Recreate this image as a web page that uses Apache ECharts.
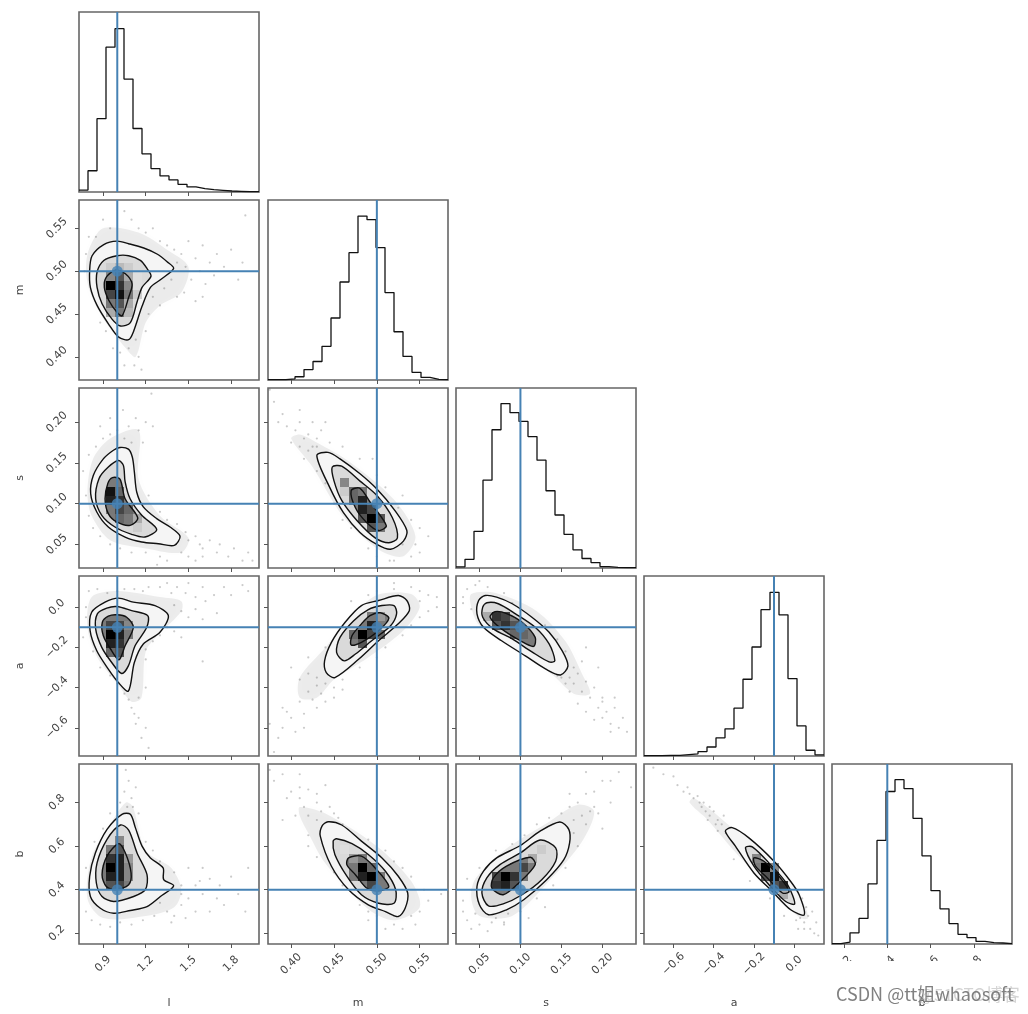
<!DOCTYPE html>
<html><head><meta charset="utf-8">
<style>html,body{margin:0;padding:0;background:#fff}#c{width:1028px;height:1014px;filter:blur(0.55px)}</style>
<script src="https://cdn.jsdelivr.net/npm/echarts@6/dist/echarts.min.js"></script>
</head><body><div id="c"></div>
<script>
const paramNames = ['l','m','s','a','b'];
const truths = [1.0,0.5,0.1,-0.1,0.4];
const xRanges = [[0.731,1.996],[0.373,0.583],[0.0214,0.241],[-0.7465,0.1485],[0.145,0.975]];
const yRanges = [[0.731,1.996],[0.373,0.583],[0.021,0.242],[-0.74,0.155],[0.151,0.977]];
const tickValues = [[0.9,1.2,1.5,1.8],[0.40,0.45,0.50,0.55],[0.05,0.10,0.15,0.20],[-0.6,-0.4,-0.2,0.0],[0.2,0.4,0.6,0.8]];
const tickLabels = [['0.9','1.2','1.5','1.8'],['0.40','0.45','0.50','0.55'],['0.05','0.10','0.15','0.20'],['\u22120.6','\u22120.4','\u22120.2','0.0'],['0.2','0.4','0.6','0.8']];

const hist_l = [1.2,13,44.8,88.5,99.8,69,38.8,23.3,14.3,9.8,7.4,4.7,3.1,2,1.4,1,0.6,0.4,0.2,0.2];
const hist_m = [0.2,0.2,0.7,2,6.4,11.3,20.6,37.9,59.9,77.8,100.2,98,80.9,53.4,29.5,14.4,4.7,1.6,0.4,0.2];
const hist_s = [0.7,5.3,22.4,53.7,84.5,100.5,94.9,89.6,80.3,65.9,47.2,32.4,20.6,11.1,5.8,3.3,0.9,0.4,0.2,0.2];
const hist_a = [0.2,0.2,0.4,0.4,0.9,1.3,2.7,5.5,11.1,16.6,29.2,46.9,66.6,89.4,100,86.3,47.3,18.4,3.5,0.7];
const hist_b = [0.2,1.2,6.8,15.6,36.7,63.3,93.2,100.4,95,76.8,53.9,32.6,21.5,12.5,5.9,3.9,1.6,0.8,0.6,0.2];

const contour_m_l = [
 [[.998,.535],[1.08,.532],[1.186,.527],[1.279,.52],[1.35,.511],[1.396,.503],[1.303,.49],[1.233,.481],[1.174,.459],[1.115,.43],[1.08,.42],[1.01,.423],[.94,.438],[.858,.46],[.811,.481],[.806,.501],[.823,.518],[.905,.531]],
 [[.998,.518],[1.08,.518],[1.162,.5125],[1.209,.503],[1.237,.494],[1.174,.481],[1.139,.464],[1.092,.44],[1.022,.436],[.963,.444],[.893,.462],[.858,.481],[.858,.499],[.905,.5125]],
 [[.987,.501],[1.057,.497],[1.104,.485],[1.08,.4695],[1.034,.448],[.998,.452],[.94,.466],[.909,.481],[.923,.493]]];
const contour_s_l = [
 [[1.019,.169],[1.078,.167],[1.106,.157],[1.12,.139],[1.137,.114],[1.183,.096],[1.277,.0816],[1.371,.0713],[1.441,.06],[1.401,.0488],[1.289,.0508],[1.172,.0529],[1.055,.059],[.937,.0713],[.856,.0898],[.813,.1123],[.832,.1348],[.902,.155],[.973,.1656]],
 [[1.008,.153],[1.043,.147],[1.055,.127],[1.09,.106],[1.172,.0857],[1.277,.0684],[1.195,.059],[1.101,.0623],[.984,.0713],[.891,.0857],[.848,.106],[.872,.131],[.937,.145]],
 [[.966,.132],[1.019,.13],[1.055,.106],[1.144,.0824],[1.09,.0734],[.996,.0775],[.937,.0877],[.914,.106],[.933,.1246]]];
const contour_a_l = [
 [[1.008,.045],[1.113,.025],[1.265,.008],[1.359,-.042],[1.3,-.125],[1.183,-.183],[1.12,-.275],[1.078,-.417],[1.008,-.375],[.937,-.308],[.856,-.217],[.809,-.117],[.82,-.025],[.914,.025]],
 [[.996,.003],[1.101,-.017],[1.214,-.042],[1.207,-.1],[1.125,-.192],[1.078,-.292],[1.031,-.33],[.961,-.275],[.891,-.2],[.848,-.108],[.86,-.033],[.926,-.005]],
 [[.996,-.038],[1.066,-.05],[1.113,-.1],[1.055,-.192],[1.012,-.262],[.961,-.217],[.902,-.142],[.895,-.075],[.937,-.045]]];
const contour_b_l = [
 [[1.033,.746],[1.092,.746],[1.127,.685],[1.174,.6],[1.233,.546],[1.322,.5],[1.326,.446],[1.396,.418],[1.303,.369],[1.209,.323],[1.092,.305],[.975,.292],[.881,.315],[.811,.369],[.806,.462],[.846,.569],[.928,.677]],
 [[1.022,.697],[1.08,.674],[1.139,.569],[1.209,.469],[1.197,.4],[1.115,.369],[.975,.346],[.893,.369],[.853,.431],[.858,.523],[.928,.631]],
 [[1.01,.611],[1.057,.569],[1.097,.477],[1.08,.423],[.987,.4],[.923,.415],[.893,.469],[.928,.554]]];
const contour_s_m = [
 [[.43,.159],[.443,.163],[.457,.155],[.48,.137],[.5,.118],[.52,.093],[.535,.067],[.531,.054],[.516,.044],[.5,.05],[.48,.065],[.461,.089],[.445,.12]],
 [[.448,.145],[.459,.146],[.48,.128],[.5,.11],[.518,.083],[.524,.058],[.514,.052],[.498,.058],[.477,.079],[.459,.104],[.45,.128]],
 [[.47,.116],[.48,.119],[.492,.102],[.511,.073],[.502,.067],[.488,.077],[.475,.095]]];
const contour_a_m = [
 [[.525,.058],[.535,.033],[.538,-.017],[.525,-.083],[.502,-.167],[.479,-.258],[.451,-.35],[.441,-.325],[.439,-.267],[.447,-.175],[.463,-.075],[.482,.008],[.502,.033]],
 [[.52,.008],[.523,-.033],[.516,-.092],[.494,-.167],[.475,-.233],[.462,-.267],[.453,-.225],[.457,-.15],[.473,-.067],[.49,-.012],[.506,.008]],
 [[.504,-.028],[.514,-.055],[.502,-.117],[.482,-.175],[.47,-.188],[.471,-.142],[.482,-.083],[.492,-.042]]];
const contour_b_m = [
 [[.443,.712],[.459,.697],[.482,.623],[.506,.546],[.525,.462],[.536,.385],[.533,.315],[.525,.277],[.51,.3],[.49,.331],[.467,.4],[.447,.508],[.434,.646],[.436,.692]],
 [[.453,.634],[.471,.612],[.49,.562],[.51,.485],[.522,.4],[.52,.338],[.502,.338],[.482,.377],[.465,.462],[.451,.562],[.449,.623]],
 [[.467,.546],[.482,.554],[.498,.5],[.514,.415],[.502,.395],[.488,.408],[.475,.469],[.465,.515]]];
const contour_a_s = [
 [[.057,.058],[.071,.05],[.09,.017],[.114,-.05],[.135,-.125],[.151,-.217],[.158,-.292],[.149,-.337],[.131,-.308],[.106,-.242],[.077,-.167],[.055,-.1],[.047,-.033],[.049,.033]],
 [[.059,.022],[.073,.017],[.094,-.033],[.118,-.1],[.135,-.183],[.142,-.267],[.135,-.272],[.114,-.222],[.09,-.158],[.067,-.108],[.054,-.05],[.054,0]],
 [[.069,-.022],[.084,-.033],[.102,-.075],[.118,-.15],[.116,-.195],[.1,-.167],[.077,-.108],[.063,-.05]]];
const contour_b_s = [
 [[.148,.711],[.159,.677],[.16,.615],[.153,.538],[.132,.446],[.104,.354],[.083,.308],[.061,.285],[.05,.331],[.047,.415],[.055,.485],[.071,.546],[.1,.603],[.124,.669]],
 [[.124,.628],[.143,.592],[.143,.531],[.126,.446],[.102,.377],[.079,.335],[.061,.326],[.053,.385],[.059,.454],[.075,.515],[.1,.569]],
 [[.112,.549],[.118,.515],[.098,.431],[.079,.377],[.065,.408],[.067,.454],[.083,.508]]];
const contour_b_a = [
 [[-.342,.669],[-.308,.685],[-.225,.638],[-.1,.531],[-.017,.438],[.025,.377],[.05,.285],[-.017,.308],[-.108,.392],[-.2,.477],[-.292,.6]],
 [[-.242,.592],[-.208,.597],[-.117,.515],[-.033,.423],[.003,.335],[-.042,.346],[-.125,.423],[-.2,.508]],
 [[-.2,.546],[-.15,.531],[-.075,.462],[-.025,.392],[-.058,.385],[-.133,.454],[-.192,.508]]];

const halo_m_l = [[.8,.525],[.9,.55],[1.15,.545],[1.35,.525],[1.5,.505],[1.45,.475],[1.3,.46],[1.2,.44],[1.13,.4],[1.06,.41],[.9,.445],[.81,.475],[.78,.5]];
const halo_s_l = [[.95,.18],[1.15,.19],[1.15,.13],[1.3,.085],[1.5,.058],[1.45,.04],[1.2,.045],[.95,.055],[.82,.085],[.79,.115],[.83,.155]];
const halo_a_l = [[.82,.05],[1,.08],[1.3,.05],[1.45,.03],[1.45,-.02],[1.3,-.13],[1.2,-.22],[1.17,-.45],[1.1,-.47],[1,-.38],[.86,-.25],[.79,-.1]];
const halo_b_l = [[1.06,.8],[1.11,.78],[1.2,.58],[1.38,.5],[1.45,.4],[1.4,.32],[1.2,.28],[.9,.27],[.79,.36],[.82,.55],[.95,.7]];
const halo_s_m = [[.41,.185],[.43,.175],[.47,.15],[.52,.105],[.545,.06],[.53,.035],[.5,.045],[.46,.085],[.425,.145],[.4,.18]];
const halo_a_m = [[.43,-.45],[.45,-.36],[.49,-.25],[.53,-.12],[.55,0],[.54,.065],[.5,.06],[.47,-.05],[.44,-.2],[.41,-.35],[.41,-.45]];
const halo_b_m = [[.41,.78],[.44,.75],[.5,.6],[.54,.44],[.55,.32],[.52,.26],[.49,.31],[.44,.52],[.42,.66],[.41,.74]];
const halo_a_s = [[.04,.065],[.07,.07],[.12,-.02],[.155,-.17],[.175,-.33],[.185,-.43],[.165,-.43],[.14,-.34],[.1,-.22],[.05,-.09],[.04,0]];
const halo_b_s = [[.05,.28],[.09,.28],[.135,.44],[.175,.62],[.19,.76],[.17,.79],[.13,.7],[.08,.58],[.045,.45],[.04,.36]];
const halo_b_a = [[-.5,.82],[-.42,.77],[-.33,.7],[-.1,.53],[.04,.35],[.07,.27],[.03,.27],[-.1,.38],[-.3,.58],[-.43,.72],[-.52,.8]];

// [x bin, y bin, density 0..1] on the 20x20 grid of each panel
const cells_m_l = [[3,10,1],[3,11,.47],[4,10,.8],[3,9,.73],[4,9,.93],[4,8,.67],[4,7,.53],[3,8,.53],[5,10,.47],[5,9,.53],[5,11,.33],[4,11,.67],[4,12,.27],[3,12,.2],[5,12,.2],[6,11,.13],[6,10,.13],[5,8,.33],[5,7,.27],[3,7,.33],[6,9,.2]];
const cells_s_l = [[3,8,.93],[3,7,.87],[4,7,.8],[4,6,.73],[3,6,.53],[4,8,.6],[5,6,.6],[5,5,.53],[4,5,.6],[6,5,.33],[6,4,.2]];
const cells_a_l = [[3,13,1],[4,13,.87],[3,12,.87],[4,12,.8],[3,14,.73],[4,14,.73],[5,14,.47],[4,11,.67],[3,11,.6],[5,13,.53]];
const cells_b_l = [[3,8,1],[4,9,.87],[3,9,.8],[4,8,.87],[3,7,.87],[4,7,.87],[3,6,.67],[4,6,.73],[5,9,.4],[5,8,.47],[5,7,.47],[3,10,.53],[4,10,.67],[4,11,.47]];
const cells_s_m = [[11,5,1],[10,6,.87],[10,7,.87],[9,7,.6],[11,6,.73],[12,5,.67],[12,4,.53],[8,9,.47],[11,4,.67],[10,5,.67],[9,8,.6],[10,8,.53],[8,8,.2]];
const cells_a_m = [[10,13,1],[11,14,.87],[10,12,.67],[11,13,.73],[9,13,.6],[12,13,.6],[11,15,.53],[12,15,.4]];
const cells_b_m = [[10,8,1],[11,7,1],[10,7,.87],[9,8,.53],[11,8,.6],[10,9,.53],[9,9,.4],[11,6,.73],[12,7,.53],[9,7,.53],[8,10,.13]];
const cells_a_s = [[4,15,.8],[5,15,.73],[5,14,.8],[6,14,.67],[4,14,.67],[7,13,.6],[6,13,.6],[3,15,.33]];
const cells_b_s = [[5,7,1],[5,6,.87],[4,7,.73],[4,6,.8],[6,7,.8],[7,8,.73],[6,8,.53],[6,6,.67],[7,7,.53],[8,9,.33],[9,10,.2]];
const cells_b_a = [[13,8,1],[14,7,.93],[12,9,.47],[15,6,.8],[13,7,.67],[14,6,.67],[14,8,.47],[15,5,.33]];

const pts_m_l = [[1.25,.55],[1.3,.535],[1.35,.53],[1.4,.525],[1.42,.51],[1.45,.52],[1.48,.505],[1.5,.535],[1.52,.49],[1.55,.515],[1.58,.5],[1.6,.53],[1.62,.485],[1.65,.51],[1.68,.495],[1.7,.52],[1.75,.505],[1.8,.525],[1.85,.49],[1.9,.565],[1.88,.51],[1.33,.48],[1.38,.49],[1.42,.47],[1.47,.475],[1.55,.465],[1.6,.47],[1.3,.46],[1.22,.45],[1.25,.47],[1.2,.545],[1.15,.55],[1.1,.56],[1.05,.57],[.95,.55],[.9,.56],[.85,.54],[.8,.54],[.78,.52],[.77,.5],[.88,.44],[.92,.43],[.97,.41],[1.02,.405],[1.08,.41],[1.13,.42],[1.15,.4],[1.12,.39],[1.17,.385],[1.05,.39],[1.2,.43]];
const pts_s_l = [[.85,.17],[.9,.18],[.95,.185],[1,.19],[1.05,.18],[1.1,.175],[1.15,.19],[1.2,.2],[1.25,.195],[1.13,.205],[1.08,.195],[.88,.195],[.95,.205],[1.04,.215],[1.24,.235],[1.18,.175],[.8,.16],[.76,.14],[.78,.11],[.8,.085],[.83,.07],[.88,.06],[.95,.05],[1.02,.045],[1.1,.04],[1.2,.04],[1.3,.035],[1.42,.075],[1.48,.065],[1.5,.055],[1.55,.06],[1.58,.05],[1.6,.045],[1.65,.055],[1.7,.04],[1.72,.05],[1.78,.035],[1.82,.045],[1.88,.03],[1.92,.04],[1.45,.04],[1.5,.035],[1.55,.03],[1.6,.035],[1.35,.03],[1.28,.025],[1.22,.11],[1.3,.09],[1.35,.08],[1.95,.03]];
const pts_a_l = [[.8,.08],[.86,.09],[.93,.07],[1,.08],[1.05,.09],[1.12,.09],[1.18,.08],[1.22,.1],[1.3,.1],[1.35,.12],[1.38,.07],[1.42,.1],[1.48,.07],[1.5,.12],[1.55,.05],[1.6,.1],[1.62,.03],[1.68,.06],[1.75,.1],[1.8,.06],[1.88,.11],[1.92,.08],[1.4,.01],[1.45,-.02],[1.5,-.05],[1.55,-.01],[1.6,-.06],[1.7,-.03],[1.35,-.1],[1.3,-.14],[1.4,-.12],[1.45,-.15],[1.25,-.17],[1.2,-.21],[1.2,-.26],[1.6,-.27],[.78,-.05],[.76,-.15],[.78,0],[.83,-.22],[.88,-.3],[.95,-.34],[1,-.38],[1.05,-.43],[1.08,-.46],[1.1,-.5],[1.12,-.53],[1.15,-.55],[1.2,-.6],[1.17,-.65],[1.22,-.7],[1.13,-.58],[1.15,-.45],[1.2,-.4]];
const pts_b_l = [[1.05,.85],[1.08,.9],[1.1,.82],[1.13,.87],[1.07,.78],[1.11,.78],[1.15,.75],[1.06,.95],[1.02,.8],[.95,.75],[.9,.68],[.84,.62],[.78,.5],[.76,.4],[.78,.3],[.82,.26],[.88,.24],[.95,.23],[1.02,.25],[1.1,.24],[1.18,.26],[1.26,.28],[1.3,.34],[1.35,.3],[1.4,.28],[1.45,.33],[1.48,.27],[1.5,.36],[1.55,.3],[1.6,.38],[1.65,.3],[1.7,.36],[1.75,.33],[1.4,.48],[1.45,.42],[1.5,.5],[1.55,.42],[1.6,.5],[1.65,.45],[1.72,.42],[1.8,.46],[1.85,.38],[1.92,.5],[1.3,.53],[1.25,.58],[1.2,.62],[1.45,.38],[1.58,.44],[1.38,.25],[1.9,.3]];
const pts_s_m = [[.385,.2],[.39,.21],[.395,.195],[.405,.19],[.41,.2],[.415,.18],[.42,.185],[.425,.17],[.43,.18],[.41,.17],[.4,.175],[.435,.19],[.445,.175],[.44,.2],[.38,.225],[.425,.2],[.42,.165],[.43,.17],[.415,.155],[.43,.14],[.44,.125],[.45,.1],[.47,.07],[.49,.045],[.5,.035],[.52,.03],[.54,.035],[.545,.05],[.55,.07],[.54,.08],[.53,.11],[.51,.12],[.5,.135],[.48,.155],[.46,.17],[.515,.03],[.53,.05],[.55,.04],[.56,.06],[.535,.065],[.525,.095],[.5,.12],[.46,.08],[.495,.155],[.41,.215],[.375,.24]];
const pts_a_m = [[.44,-.38],[.43,-.39],[.42,-.42],[.435,-.43],[.41,-.47],[.425,-.46],[.44,-.47],[.45,-.4],[.415,-.53],[.4,-.55],[.39,-.6],[.405,-.62],[.385,-.65],[.375,-.58],[.38,-.72],[.395,-.52],[.43,-.35],[.42,-.33],[.4,-.3],[.41,-.36],[.45,-.45],[.46,-.41],[.43,-.5],[.415,-.6],[.39,-.5],[.44,-.3],[.46,-.22],[.44,-.2],[.47,-.12],[.49,.06],[.5,.08],[.52,.09],[.54,.1],[.55,.08],[.56,.06],[.57,.05],[.55,.03],[.56,-.02],[.55,-.05],[.54,-.09],[.53,-.14],[.51,-.2],[.5,-.25],[.48,-.3],[.46,-.36],[.52,.12],[.47,.03],[.57,0],[.42,-.25]];
const pts_b_m = [[.38,.9],[.39,.93],[.4,.85],[.41,.87],[.395,.82],[.41,.82],[.42,.86],[.43,.84],[.415,.78],[.43,.8],[.42,.74],[.435,.76],[.445,.78],[.45,.75],[.43,.72],[.455,.73],[.405,.74],[.39,.72],[.44,.88],[.46,.7],[.42,.65],[.42,.6],[.43,.55],[.45,.48],[.46,.42],[.48,.33],[.5,.28],[.52,.24],[.53,.22],[.545,.24],[.55,.3],[.56,.35],[.555,.4],[.54,.46],[.53,.5],[.52,.53],[.51,.58],[.49,.63],[.47,.66],[.575,.38],[.51,.22],[.49,.26],[.52,.28],[.54,.28],[.375,.95],[.41,.93],[.45,.62],[.49,.3]];
const pts_a_s = [[.16,-.35],[.165,-.38],[.17,-.33],[.175,-.42],[.18,-.37],[.185,-.45],[.155,-.38],[.15,-.35],[.19,-.4],[.195,-.5],[.2,-.47],[.205,-.52],[.21,-.58],[.2,-.55],[.215,-.5],[.22,-.6],[.21,-.62],[.225,-.55],[.19,-.56],[.18,-.52],[.17,-.48],[.2,-.45],[.215,-.45],[.23,-.62],[.165,-.3],[.175,-.27],[.155,-.22],[.145,-.16],[.13,-.09],[.11,-.05],[.09,.02],[.08,.07],[.06,.1],[.045,.11],[.035,.09],[.03,.05],[.04,-.01],[.05,-.05],[.065,-.1],[.085,-.17],[.105,-.22],[.125,-.28],[.145,-.34],[.16,-.42],[.03,.02],[.05,.13],[.18,-.2],[.195,-.3]];
const pts_b_s = [[.03,.3],[.035,.26],[.04,.22],[.05,.24],[.06,.21],[.07,.27],[.08,.24],[.085,.29],[.045,.29],[.065,.25],[.03,.35],[.04,.4],[.035,.45],[.05,.5],[.07,.58],[.09,.61],[.105,.65],[.12,.7],[.135,.73],[.15,.75],[.16,.78],[.17,.8],[.18,.84],[.19,.85],[.2,.9],[.19,.78],[.175,.74],[.165,.72],[.18,.7],[.195,.75],[.21,.8],[.21,.9],[.22,.94],[.2,.68],[.17,.6],[.155,.5],[.14,.42],[.12,.36],[.1,.3],[.08,.25],[.11,.27],[.13,.32],[.165,.66],[.185,.76],[.18,.94],[.235,.87],[.15,.67],[.16,.84]];
const pts_b_a = [[-.7,.96],[-.65,.93],[-.6,.92],[-.58,.88],[-.55,.85],[-.5,.82],[-.52,.84],[-.47,.8],[-.44,.76],[-.46,.78],[-.42,.74],[-.45,.8],[-.4,.76],[-.38,.72],[-.36,.7],[-.42,.78],[-.48,.83],[-.43,.72],[-.39,.7],[-.35,.74],[-.53,.87],[-.34,.66],[-.38,.67],[-.3,.62],[-.25,.62],[-.2,.55],[-.3,.54],[-.22,.44],[-.12,.36],[-.05,.28],[.01,.26],[.03,.27],[.05,.25],[.07,.28],[.08,.22],[.1,.2],[.06,.32],[.09,.3],[.11,.25],[.04,.36],[.02,.22],[.03,.3],[-.02,.42],[.05,.22],[.12,.19]];

const hists = [hist_l,hist_m,hist_s,hist_a,hist_b];
const panels = {
 '1,0':[contour_m_l,halo_m_l,cells_m_l,pts_m_l],
 '2,0':[contour_s_l,halo_s_l,cells_s_l,pts_s_l],
 '3,0':[contour_a_l,halo_a_l,cells_a_l,pts_a_l],
 '4,0':[contour_b_l,halo_b_l,cells_b_l,pts_b_l],
 '2,1':[contour_s_m,halo_s_m,cells_s_m,pts_s_m],
 '3,1':[contour_a_m,halo_a_m,cells_a_m,pts_a_m],
 '4,1':[contour_b_m,halo_b_m,cells_b_m,pts_b_m],
 '3,2':[contour_a_s,halo_a_s,cells_a_s,pts_a_s],
 '4,2':[contour_b_s,halo_b_s,cells_b_s,pts_b_s],
 '4,3':[contour_b_a,halo_b_a,cells_b_a,pts_b_a]
};

const colLeft = [79,268,456,644,832], rowTop = [12,200,388,576,764], SIZE = 180;
const BLUE = '#4682b4', FRAME = '#666', TXT = '#444', FONT = '"DejaVu Sans",sans-serif';
const LEVEL_FILL = ['#f5f5f5','#dadada','#7a7a7a'];

const grids = [], xAxes = [], yAxes = [], series = [];

function labelFmt(p){ return v => { const i = tickValues[p].findIndex(t => Math.abs(t - v) < 1e-6); return i < 0 ? '' : tickLabels[p][i]; }; }

function polygonSeries(idx, polys, styleOf, z){
  return { type:'custom', coordinateSystem:'cartesian2d', xAxisIndex:idx, yAxisIndex:idx, silent:true, z,
    clip:true, animation:false, data: polys.map(p => p[0]),
    renderItem:(params, api) => ({ type:'polygon',
      shape:{ points: polys[params.dataIndex].map(v => api.coord(v)), smooth:0.3 },
      style: styleOf(params.dataIndex) }) };
}

for (let r = 0; r < 5; r++) for (let c = 0; c <= r; c++) {
  const idx = grids.length, diag = r === c;
  grids.push({ left:colLeft[c], top:rowTop[r], width:SIZE, height:SIZE, show:true, borderColor:FRAME, borderWidth:1.6, backgroundColor:'#fff' });
  const bottom = r === 4, left = c === 0 && !diag;
  xAxes.push({ gridIndex:idx, type:'value', min:xRanges[c][0], max:xRanges[c][1],
    name: bottom ? paramNames[c] : '', nameLocation:'middle', nameGap:59,
    nameTextStyle:{ color:TXT, fontSize:11, fontFamily:FONT, verticalAlign:'middle' },
    axisLine:{show:false,onZero:false}, splitLine:{show:false},
    axisTick:{ show:true, length:4, lineStyle:{color:'#555',width:1}, customValues:tickValues[c] },
    axisLabel:{ show:bottom, customValues:tickValues[c], formatter:labelFmt(c), rotate:45, align:'center', verticalAlign:'middle', margin:20, color:TXT, fontSize:11, fontFamily:FONT, hideOverlap:false } });
  yAxes.push(diag ? { gridIndex:idx, type:'value', min:0, max:110, axisLine:{show:false,onZero:false}, splitLine:{show:false}, axisTick:{show:false}, axisLabel:{show:false} } :
   { gridIndex:idx, type:'value', min:yRanges[r][0], max:yRanges[r][1],
    name: left ? paramNames[r] : '', nameLocation:'middle', nameGap:59,
    nameTextStyle:{ color:TXT, fontSize:11, fontFamily:FONT, verticalAlign:'middle' },
    axisLine:{show:false,onZero:false}, splitLine:{show:false},
    axisTick:{ show:true, length:4, lineStyle:{color:'#555',width:1}, customValues:tickValues[r] },
    axisLabel:{ show:left, customValues:tickValues[r], formatter:labelFmt(r), rotate:45, align:'center', verticalAlign:'middle', margin:22, color:TXT, fontSize:11, fontFamily:FONT, hideOverlap:false } });

  if (diag) {
    const [a,b] = xRanges[c], w = (b-a)/20;
    const pts = hists[c].map((v,i) => [a+i*w, v]);
    pts.push([b, hists[c][19]]);
    series.push({ type:'line', xAxisIndex:idx, yAxisIndex:idx, step:'end', data:pts, showSymbol:false, silent:true, animation:false,
      lineStyle:{color:'#111',width:1.3}, z:3 });
    series.push({ type:'line', xAxisIndex:idx, yAxisIndex:idx, data:[[truths[c],0],[truths[c],110]], showSymbol:false, silent:true, animation:false,
      lineStyle:{color:BLUE,width:2}, z:4 });
    continue;
  }
  const [contour, halo, cells, pts] = panels[r+','+c];
  series.push(polygonSeries(idx,[halo],() => ({fill:'rgba(0,0,0,0.07)', shadowBlur:14, shadowColor:'rgba(0,0,0,0.16)'}),1));
  series.push({ type:'scatter', xAxisIndex:idx, yAxisIndex:idx, data:pts, symbolSize:2.2, silent:true, animation:false,
    itemStyle:{color:'rgba(0,0,0,0.26)'}, z:2 });
  series.push(polygonSeries(idx,contour,i => ({fill:LEVEL_FILL[i]}),3));
  const [xa,xb] = xRanges[c], [ya,yb] = yRanges[r], bw = (xb-xa)/20, bh = (yb-ya)/20;
  series.push({ type:'custom', coordinateSystem:'cartesian2d', xAxisIndex:idx, yAxisIndex:idx, silent:true, z:4, animation:false,
    data: cells.map(q => [xa+(q[0]+.5)*bw, ya+(q[1]+.5)*bh, q[2]]),
    renderItem:(params, api) => {
      const x = api.value(0), y = api.value(1), g = Math.round(255*(1-api.value(2)));
      const p0 = api.coord([x-bw/2, y+bh/2]), p1 = api.coord([x+bw/2, y-bh/2]);
      return { type:'rect', shape:{x:p0[0], y:p0[1], width:p1[0]-p0[0], height:p1[1]-p0[1]}, style:{fill:`rgb(${g},${g},${g})`} };
    } });
  series.push(polygonSeries(idx,contour,() => ({fill:'none', stroke:'#111', lineWidth:1.4}),5));
  series.push({ type:'line', xAxisIndex:idx, yAxisIndex:idx, data:[[truths[c],yRanges[r][0]],[truths[c],yRanges[r][1]]], showSymbol:false, silent:true, animation:false, lineStyle:{color:BLUE,width:2}, z:6 });
  series.push({ type:'line', xAxisIndex:idx, yAxisIndex:idx, data:[[xRanges[c][0],truths[r]],[xRanges[c][1],truths[r]]], showSymbol:false, silent:true, animation:false, lineStyle:{color:BLUE,width:2}, z:6 });
  series.push({ type:'scatter', xAxisIndex:idx, yAxisIndex:idx, data:[[truths[c],truths[r]]], symbolSize:11, silent:true, animation:false, itemStyle:{color:BLUE}, z:7 });
}

const chart = echarts.init(document.getElementById('c'), null, {renderer:'canvas'});
chart.setOption({
  animation:false, backgroundColor:'#fff', grid:grids, xAxis:xAxes, yAxis:yAxes, series,
  graphic:[
    { type:'rect', z:100, silent:true, shape:{x:826,y:961,width:202,height:24}, style:{fill:'#fff'} },
    { type:'text', z:101, silent:true, left:918, top:986, style:{text:'@51CTO博客', fill:'#d4d4d4', font:'17px "Noto Sans CJK SC",sans-serif'} },
    { type:'text', z:102, silent:true, left:836, top:985, style:{text:'CSDN @tt姐whaosoft', fill:'#808080', font:'18px "Noto Sans CJK SC",sans-serif'} }
  ]
});
</script></body></html>
